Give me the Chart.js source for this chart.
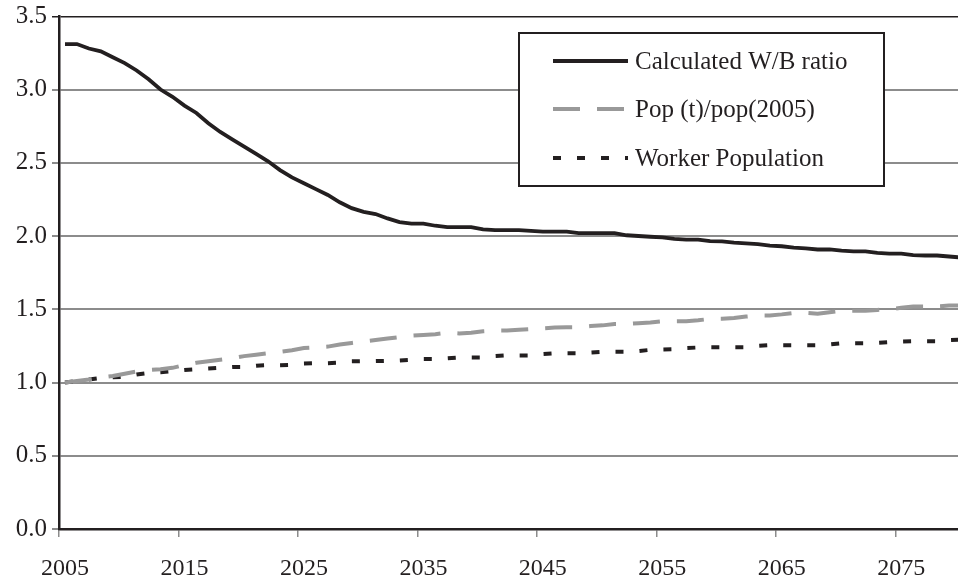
<!DOCTYPE html>
<html>
<head>
<meta charset="utf-8">
<script src="https://cdn.jsdelivr.net/npm/chart.js@4"></script>
<style>
  html, body { margin: 0; padding: 0; background: #fff; }
  canvas { display: block; }
</style>
</head>
<body>
<canvas id="myChart" width="958" height="584"></canvas>
<script>
const years = [];
for (let y = 2005; y <= 2080; y++) years.push(y);

const xTickLabels = ["2005", "2015", "2025", "2035", "2045", "2055", "2065", "2075"];

const wbRatio = [
  3.31, 3.31, 3.28, 3.26, 3.22, 3.18, 3.13, 3.07, 3.00, 2.95,
  2.89, 2.84, 2.77, 2.71, 2.66, 2.61, 2.56, 2.51, 2.45, 2.40,
  2.36, 2.32, 2.28, 2.23, 2.19, 2.165, 2.15, 2.12, 2.095, 2.085,
  2.085, 2.07, 2.06, 2.06, 2.06, 2.045, 2.04, 2.04, 2.04, 2.035,
  2.03, 2.03, 2.03, 2.02, 2.02, 2.02, 2.02, 2.005, 2.00, 1.995,
  1.99, 1.98, 1.975, 1.975, 1.965, 1.963, 1.955, 1.95, 1.945, 1.935,
  1.93, 1.92, 1.915, 1.908, 1.908, 1.90, 1.895, 1.895, 1.885, 1.88,
  1.88, 1.87, 1.867, 1.867, 1.86, 1.853
];

const popRatio = [
  1.00, 1.01, 1.02, 1.035, 1.045, 1.06, 1.075, 1.085, 1.09, 1.10,
  1.12, 1.135, 1.145, 1.155, 1.165, 1.18, 1.19, 1.20, 1.21, 1.22,
  1.235, 1.24, 1.245, 1.26, 1.27, 1.28, 1.29, 1.30, 1.31, 1.32,
  1.325, 1.33, 1.34, 1.335, 1.34, 1.35, 1.355, 1.355, 1.36, 1.365,
  1.37, 1.375, 1.377, 1.377, 1.385, 1.39, 1.40, 1.40, 1.405, 1.41,
  1.418, 1.418, 1.418, 1.425, 1.434, 1.435, 1.44, 1.45, 1.457, 1.457,
  1.465, 1.475, 1.475, 1.47, 1.48, 1.49, 1.49, 1.49, 1.495, 1.50,
  1.51, 1.518, 1.518, 1.52, 1.525, 1.525
];

const workerPop = [
  1.00, 1.01, 1.02, 1.03, 1.035, 1.04, 1.055, 1.065, 1.07, 1.078,
  1.085, 1.09, 1.095, 1.10, 1.105, 1.105, 1.115, 1.118, 1.118, 1.12,
  1.13, 1.132, 1.132, 1.135, 1.145, 1.146, 1.146, 1.148, 1.15, 1.155,
  1.16, 1.16, 1.165, 1.17, 1.17, 1.17, 1.18, 1.185, 1.185, 1.185,
  1.195, 1.20, 1.20, 1.20, 1.205, 1.21, 1.21, 1.21, 1.215, 1.223,
  1.225, 1.227, 1.235, 1.239, 1.24, 1.24, 1.24, 1.24, 1.25, 1.255,
  1.255, 1.255, 1.255, 1.255, 1.26, 1.268, 1.268, 1.268, 1.27, 1.275,
  1.28, 1.282, 1.282, 1.282, 1.29, 1.293
];

const seriesLabels = ["Calculated W/B ratio", "Pop (t)/pop(2005)", "Worker Population"];

const FONT = "'Liberation Serif', 'Times New Roman', serif";
const INK = "#231f20";
const GRID = "#8c8c8c";

function toPoints(vals) {
  return vals.map((v, i) => ({ x: years[i], y: v }));
}

// legend drawn inside the plot with a framed box
const boxLegend = {
  id: "boxLegend",
  afterDatasetsDraw(chart) {
    const ctx = chart.ctx;
    ctx.save();
    ctx.fillStyle = "#fff";
    ctx.fillRect(519, 33, 365, 153);
    ctx.strokeStyle = INK;
    ctx.lineWidth = 2;
    ctx.strokeRect(519, 33, 365, 153);
    const rows = [61, 109, 158];
    chart.data.datasets.forEach((ds, i) => {
      const y = rows[i];
      ctx.beginPath();
      ctx.setLineDash(ds.borderDash || []);
      ctx.lineDashOffset = 0;
      ctx.strokeStyle = ds.borderColor;
      ctx.lineWidth = ds.borderWidth;
      ctx.moveTo(553, y);
      ctx.lineTo(628, y);
      ctx.stroke();
      ctx.setLineDash([]);
      ctx.fillStyle = INK;
      ctx.font = "25px " + FONT;
      ctx.textBaseline = "middle";
      ctx.fillText(ds.label, 635, y + 1);
    });
    ctx.restore();
  },
};

const ctx = document.getElementById("myChart");

new Chart(ctx, {
  type: "line",
  data: {
    datasets: [
      {
        label: seriesLabels[0],
        data: toPoints(wbRatio),
        borderColor: INK,
        borderWidth: 3.8,
        pointRadius: 0,
        tension: 0,
      },
      {
        label: seriesLabels[1],
        data: toPoints(popRatio),
        borderColor: "#999999",
        borderWidth: 4,
        borderDash: [27, 17],
        pointRadius: 0,
        tension: 0,
      },
      {
        label: seriesLabels[2],
        data: toPoints(workerPop),
        borderColor: INK,
        borderWidth: 4,
        borderDash: [8, 16],
        pointRadius: 0,
        tension: 0,
      },
    ],
  },
  options: {
    responsive: false,
    animation: false,
    devicePixelRatio: 1,
    layout: { padding: { top: 0, right: 0, left: 0, bottom: 0 } },
    plugins: {
      legend: { display: false },
      tooltip: { enabled: false },
    },
    scales: {
      x: {
        type: "linear",
        min: 2004.5,
        max: 2079.75,
        afterBuildTicks: (scale) => {
          scale.ticks = xTickLabels.map((t) => ({ value: Number(t) - 0.5 }));
        },
        afterFit: (scale) => {
          scale.height = 55;
        },
        ticks: {
          autoSkip: false,
          maxRotation: 0,
          labelOffset: 6,
          padding: 17,
          color: INK,
          font: { family: FONT, size: 24 },
          callback: (value, index) => xTickLabels[index],
        },
        grid: {
          display: true,
          drawOnChartArea: false,
          drawTicks: true,
          tickLength: 8,
          color: GRID,
          lineWidth: 1.5,
        },
        border: { display: true, color: INK, width: 2.5 },
      },
      y: {
        min: 0,
        max: 3.5,
        afterFit: (scale) => {
          scale.width = 59;
        },
        ticks: {
          stepSize: 0.5,
          padding: 5,
          color: INK,
          font: { family: FONT, size: 25, lineHeight: 0.9 },
          callback: (v) => v.toFixed(1),
        },
        grid: {
          tickLength: 7,
          color: (c) => (c.tick && c.tick.value === 3.5 ? INK : GRID),
          lineWidth: (c) => (c.tick && c.tick.value === 3.5 ? 1.5 : 2),
        },
        border: { display: true, color: INK, width: 2.5 },
      },
    },
  },
  plugins: [boxLegend],
});
</script>
</body>
</html>
